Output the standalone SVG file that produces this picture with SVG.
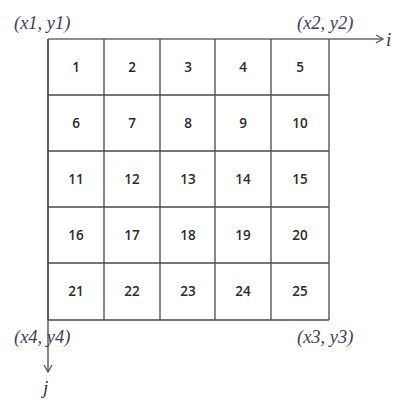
<svg xmlns="http://www.w3.org/2000/svg" width="395" height="401" viewBox="0 0 395 401">
<style>
.g{stroke:#4a4a4a;stroke-width:1.3;fill:none}
.ax{stroke:#6a6a6a;stroke-width:1.6;fill:none}
.n{font-family:"Open Sans","Liberation Sans",sans-serif;font-size:13.5px;font-weight:600;fill:#2a2a2a;text-anchor:middle}
.c{font-family:"Liberation Serif",serif;font-style:italic;font-size:18.5px;fill:#3e3e58}
</style>
<defs>
<marker id="ah" markerWidth="10" markerHeight="10" refX="8" refY="5" orient="auto" markerUnits="userSpaceOnUse">
<path d="M1,1 L8,5 L1,9" fill="none" stroke="#555" stroke-width="1.3"/>
</marker>
</defs>
<rect width="395" height="401" fill="#fff"/>
<g id="connectors">
<line class="ax" x1="48" y1="39" x2="383" y2="39" marker-end="url(#ah)"/>
<line class="ax" x1="48" y1="39" x2="48" y2="372" marker-end="url(#ah)"/>
</g>
<g id="grid">
<path class="g" d="M48,39V320M104,39V320M160,39V320M215,39V320M271,39V320M329,39V320M48,95H329M48,151H329M48,207H329M48,263H329M48,320H329"/>
</g>
<g id="numbers">
<text class="n" x="76" y="72">1</text><text class="n" x="132" y="72">2</text><text class="n" x="188" y="72">3</text><text class="n" x="243" y="72">4</text><text class="n" x="300" y="72">5</text>
<text class="n" x="76" y="128">6</text><text class="n" x="132" y="128">7</text><text class="n" x="188" y="128">8</text><text class="n" x="243" y="128">9</text><text class="n" x="300" y="128">10</text>
<text class="n" x="76" y="184">11</text><text class="n" x="132" y="184">12</text><text class="n" x="188" y="184">13</text><text class="n" x="243" y="184">14</text><text class="n" x="300" y="184">15</text>
<text class="n" x="76" y="240">16</text><text class="n" x="132" y="240">17</text><text class="n" x="188" y="240">18</text><text class="n" x="243" y="240">19</text><text class="n" x="300" y="240">20</text>
<text class="n" x="76" y="296">21</text><text class="n" x="132" y="296">22</text><text class="n" x="188" y="296">23</text><text class="n" x="243" y="296">24</text><text class="n" x="300" y="296">25</text>
</g>
<g id="labels">
<text class="c" x="14" y="29">(x1, y1)</text>
<text class="c" x="297" y="29">(x2, y2)</text>
<text class="c" x="14" y="343">(x4, y4)</text>
<text class="c" x="297" y="343">(x3, y3)</text>
<text class="c" x="386" y="46" style="font-size:19px;fill:#333">i</text>
<text class="c" x="43" y="394" style="font-size:19px;fill:#333">j</text>
</g>
</svg>
